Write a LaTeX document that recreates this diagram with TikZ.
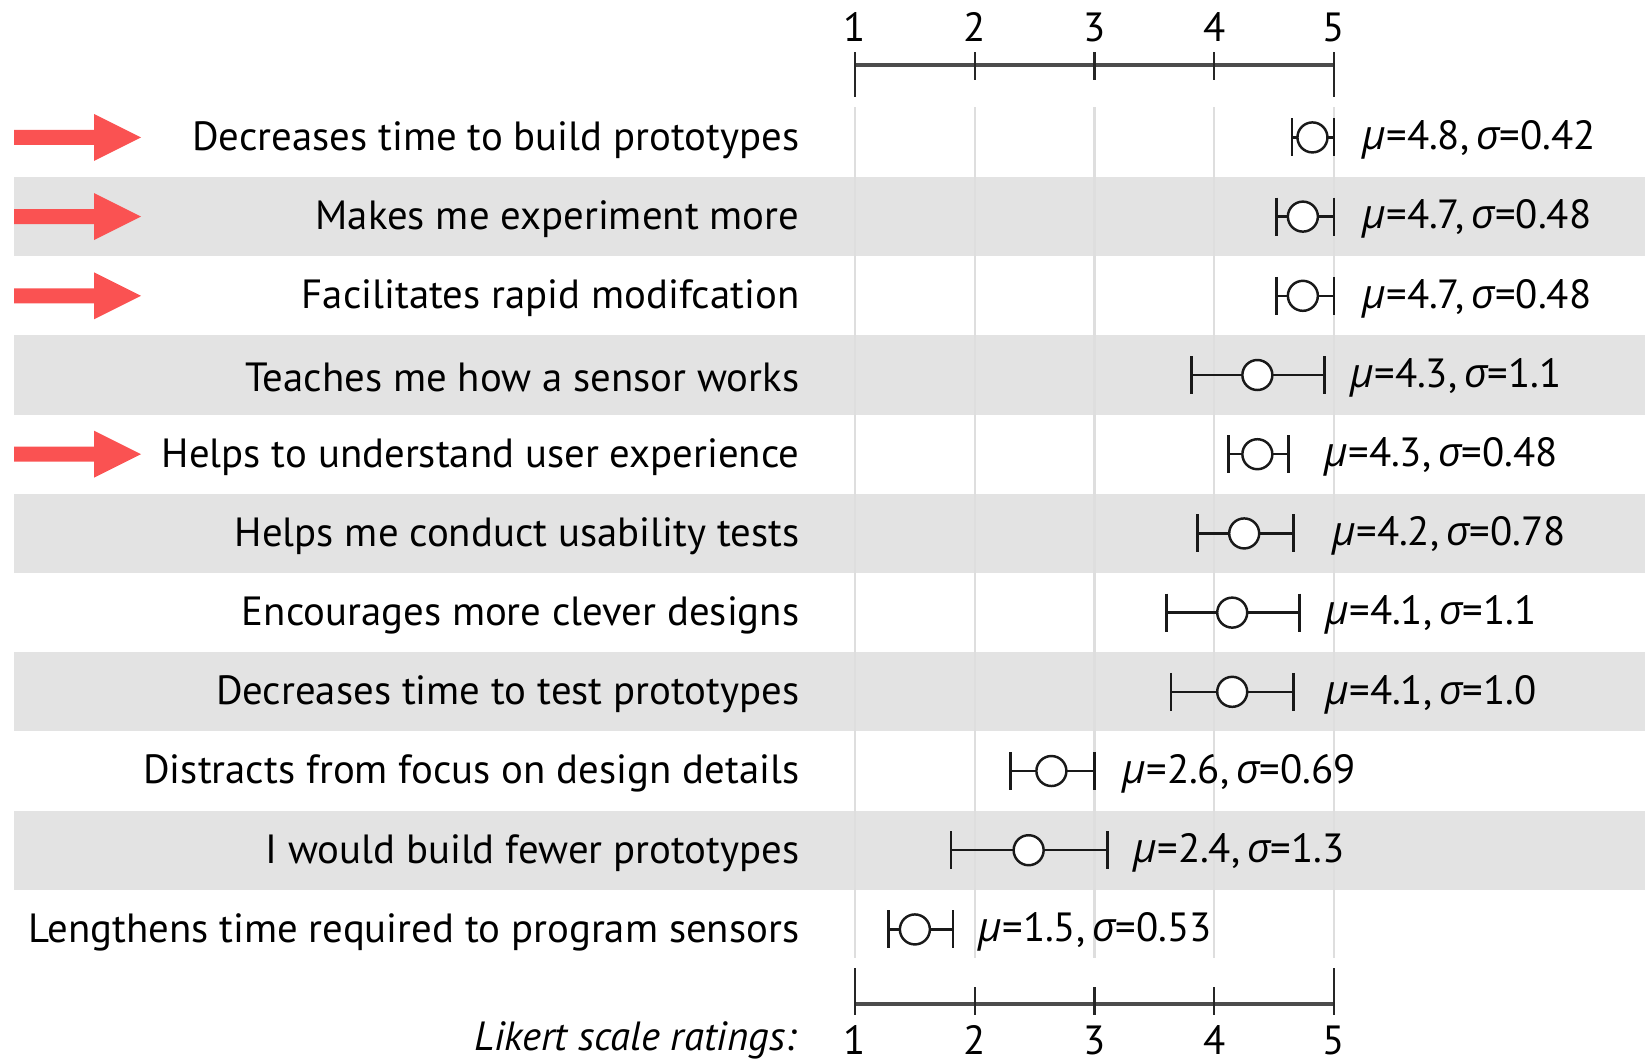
\documentclass[tikz,border=0pt]{standalone}
\usepackage{fontspec}
\setmainfont{PT Sans}
\newfontfamily\grk{Open Sans}
\usetikzlibrary{positioning,calc}
\definecolor{bandgray}{RGB}{227,227,227}
\definecolor{gridgray}{RGB}{222,222,222}
\definecolor{hotred}{RGB}{250,82,82}
\newcommand{\chartfont}{\fontsize{11.6}{13}\selectfont}
\newcommand{\musig}[2]{{\grk\itshape μ}=#1,\,{\grk\itshape σ}=#2}

\begin{document}
\begin{tikzpicture}[
        lbl/.style={anchor=east, font=\chartfont, inner sep=0pt},
        stat/.style={anchor=west, font=\chartfont, inner sep=0pt},
        num/.style={font=\chartfont, inner sep=0pt},
        band/.style={fill=bandgray, draw=none},
        gridline/.style={draw=gridgray, line width=0.6pt},
        axis/.style={draw=black!70, line width=0.9pt},
        tick/.style={draw=black!85, line width=0.6pt},
        bar/.style={draw=black!90, line width=0.7pt},
        dot/.style={circle, draw=black!90, fill=white, line width=0.7pt, minimum size=0.30cm, inner sep=0pt}
    ]
    \useasboundingbox (0,0) rectangle (16.45,-10.61);

    % shaded rows
    \foreach \i in {2,4,...,10}
        \fill[band] (0.14,{-1.374-(\i-1)*0.792+0.396}) rectangle (16.45,{-1.374-(\i-1)*0.792-0.396});

    % red markers
    \foreach \i in {1,2,3,5}
        \fill[hotred] (0.14,{-1.374-(\i-1)*0.792+0.075}) -- ++(0.80,0) -- ++(0,0.16)
            -- ++(0.47,-0.235) -- ++(-0.47,-0.235) -- ++(0,0.16) -- ++(-0.80,0) -- cycle;

    \begin{scope}[x=1.1975cm, xshift=7.3525cm]
        % grid and scales
        \foreach \v in {1,...,5} {
            \draw[gridline] (\v,-1.07) -- (\v,-9.58);
            \node[num] (top\v) at (\v,-0.27) {\v};
            \node[num] (bot\v) at (\v,-10.40) {\v};
        }
        \draw[axis] (1,-0.65) -- (5,-0.65);
        \draw[axis] (1,-10.04) -- (5,-10.04);
        \foreach \v in {2,3,4} {
            \draw[tick] (\v,-0.52) -- (\v,-0.80);
            \draw[tick] (\v,-9.87) -- (\v,-10.15);
        }
        \foreach \v in {1,5} {
            \draw[tick] (\v,-0.52) -- (\v,-0.97);
            \draw[tick] (\v,-9.68) -- (\v,-10.15);
        }

        % error bars: index / low / mean / high
        \foreach \i/\lo/\md/\hi in {
            1/4.65/4.82/5.0, 2/4.52/4.74/5.0, 3/4.52/4.74/5.0, 4/3.81/4.36/4.92,
            5/4.12/4.36/4.62, 6/3.86/4.25/4.66, 7/3.60/4.15/4.71, 8/3.64/4.15/4.66,
            9/2.30/2.64/3.0, 10/1.80/2.45/3.11, 11/1.28/1.50/1.82} {
            \pgfmathsetmacro\y{-1.374-(\i-1)*0.792}
            \coordinate (lo\i) at (\lo,\y);
            \coordinate (hi\i) at (\hi,\y);
            \draw[bar] (lo\i) -- (hi\i);
            \draw[bar] ($(lo\i)+(0,0.19)$) -- ($(lo\i)-(0,0.19)$);
            \draw[bar] ($(hi\i)+(0,0.19)$) -- ($(hi\i)-(0,0.19)$);
            \node[dot] (m\i) at (\md,\y) {};
        }
    \end{scope}

    % item texts and statistics
    \foreach \i/\txt/\sx/\mv/\sv in {
        1/Decreases time to build prototypes/13.62/4.8/0.42,
        2/Makes me experiment more/13.62/4.7/0.48,
        3/Facilitates rapid modifcation/13.62/4.7/0.48,
        4/Teaches me how a sensor works/13.50/4.3/1.1,
        5/Helps to understand user experience/13.24/4.3/0.48,
        6/Helps me conduct usability tests/13.32/4.2/0.78,
        7/Encourages more clever designs/13.25/4.1/1.1,
        8/Decreases time to test prototypes/13.25/4.1/1.0,
        9/Distracts from focus on design details/11.22/2.6/0.69,
        10/I would build fewer prototypes/11.33/2.4/1.3,
        11/Lengthens time required to program sensors/9.78/1.5/0.53} {
        \node[lbl] (q\i) at (8.00,{-1.40-(\i-1)*0.792}) {\txt};
        \node[stat] (s\i) at (\sx,{-1.40-(\i-1)*0.792}) {\musig{\mv}{\sv}};
    }
    \node[lbl, font=\chartfont\itshape] (scale) at (7.97,-10.40) {Likert scale ratings:};
\end{tikzpicture}
\end{document}
